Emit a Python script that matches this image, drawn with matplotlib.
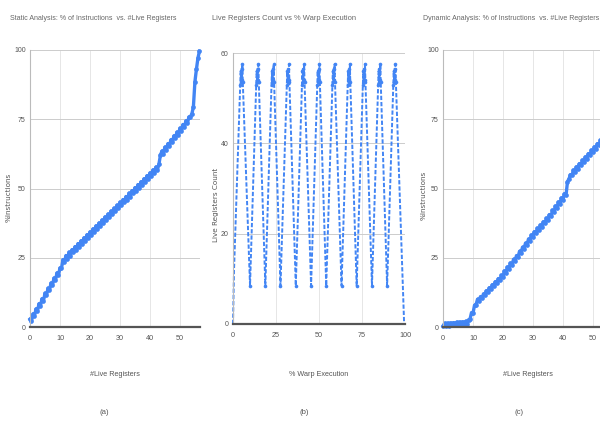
import matplotlib
matplotlib.use("Agg")
import matplotlib.pyplot as plt
from matplotlib import font_manager

names = {f.name for f in font_manager.fontManager.ttflist}
NARROW = ['Liberation Sans Narrow', 'Liberation Sans', 'DejaVu Sans']
NARROW = [n for n in NARROW if n in names] or ['DejaVu Sans']

# ---------------- data ----------------
# (a) Static analysis
static_x = [i * 0.5 for i in range(114)]
static_y = [2.8, 2.1, 4.7, 4.0, 6.5, 5.8, 8.4, 7.7, 10.2, 9.5,
            12.1, 11.4, 13.9, 13.2, 15.8, 15.1, 17.6, 16.9, 19.5, 18.8,
            21.3, 21.2, 24.3, 23.5, 25.8, 24.7, 26.9, 25.8, 27.9, 26.9,
            29.0, 27.9, 30.1, 29.0, 31.1, 30.1, 32.2, 31.1, 33.3, 32.2,
            34.3, 33.3, 35.4, 34.3, 36.5, 35.4, 37.5, 36.5, 38.6, 37.5,
            39.7, 38.6, 40.7, 39.6, 41.8, 40.7, 42.8, 41.8, 43.9, 42.8,
            45.0, 43.9, 46.0, 45.0, 47.1, 46.0, 48.2, 47.1, 49.2, 48.2,
            50.3, 49.2, 51.4, 50.3, 52.4, 51.4, 53.5, 52.4, 54.6, 53.5,
            55.6, 54.6, 56.7, 55.6, 57.7, 56.7, 58.8, 62.0, 63.5, 62.6,
            64.9, 63.9, 66.2, 65.3, 67.6, 66.7, 69.0, 68.1, 70.3, 69.4,
            71.7, 70.8, 73.1, 72.2, 74.4, 73.5, 75.8, 75.9, 77.0, 79.5,
            88.5, 93.0, 97.0, 99.5]

# (b) Live registers over warp execution
warp_x = [0.0, 0.6,
          4.2, 4.45, 4.7, 4.95, 5.2, 5.45, 5.7, 9.9,
          13.5, 13.75, 14.0, 14.25, 14.5, 14.75, 15.0, 18.8,
          22.4, 22.65, 22.9, 23.15, 23.4, 23.65, 23.9, 27.6,
          31.3, 31.55, 31.8, 32.05, 32.3, 32.55, 32.8, 36.5,
          40.1, 40.35, 40.6, 40.85, 41.1, 41.35, 41.6, 45.4,
          49.0, 49.25, 49.5, 49.75, 50.0, 50.25, 50.5, 54.2,
          57.8, 58.05, 58.3, 58.55, 58.8, 59.05, 59.3, 63.1,
          66.7, 66.95, 67.2, 67.45, 67.7, 67.95, 68.2, 71.9,
          75.5, 75.75, 76.0, 76.25, 76.5, 76.75, 77.0, 80.8,
          84.4, 84.65, 84.9, 85.15, 85.4, 85.65, 85.9, 89.6,
          93.2, 93.45, 93.7, 93.95, 94.2, 94.45, 94.7, 99.5]
warp_y = [0.0, 12.0,
          53.0, 56.0, 53.5, 56.5, 54.0, 57.5, 53.5, 8.5,
          53.0, 56.0, 53.5, 56.5, 54.0, 57.5, 53.5, 8.5,
          53.0, 56.0, 53.5, 56.5, 54.0, 57.5, 53.5, 8.5,
          53.0, 56.0, 53.5, 56.5, 54.0, 57.5, 53.5, 8.5,
          53.0, 56.0, 53.5, 56.5, 54.0, 57.5, 53.5, 8.5,
          53.0, 56.0, 53.5, 56.5, 54.0, 57.5, 53.5, 8.5,
          53.0, 56.0, 53.5, 56.5, 54.0, 57.5, 53.5, 8.5,
          53.0, 56.0, 53.5, 56.5, 54.0, 57.5, 53.5, 8.5,
          53.0, 56.0, 53.5, 56.5, 54.0, 57.5, 53.5, 8.5,
          53.0, 56.0, 53.5, 56.5, 54.0, 57.5, 53.5, 8.5,
          53.0, 56.0, 53.5, 56.5, 54.0, 57.5, 53.5, 0.0]

# (c) Dynamic analysis
dyn_x = [i * 0.5 for i in range(110)]
dyn_y = [0.3, 1.3, 0.4, 1.4, 0.5, 1.5, 0.6, 1.6, 0.7, 1.7,
         0.8, 1.8, 0.9, 1.9, 1.0, 2.0, 1.0, 2.6, 2.8, 5.2,
         5.0, 7.8, 8.0, 10.0, 9.4, 11.0, 10.4, 12.0, 11.5, 13.1,
         12.6, 14.2, 13.7, 15.3, 14.8, 16.4, 15.9, 17.5, 17.0, 18.6,
         18.2, 20.2, 19.6, 21.6, 21.0, 23.0, 22.4, 24.4, 23.8, 25.8,
         25.2, 27.3, 26.7, 28.8, 28.2, 30.3, 29.7, 31.8, 31.2, 33.2,
         32.6, 34.4, 33.8, 35.6, 35.0, 36.8, 36.2, 38.0, 37.4, 39.2,
         38.6, 40.6, 40.0, 42.1, 41.5, 43.6, 43.0, 45.1, 44.5, 46.6,
         46.0, 48.1, 47.5, 52.5, 53.5, 55.0, 54.8, 56.6, 56.0, 57.8,
         57.2, 59.0, 58.4, 60.2, 59.6, 61.4, 60.8, 62.6, 62.0, 63.8,
         63.2, 65.0, 64.4, 66.2, 65.6, 67.4, 66.8, 68.6, 68.0, 69.8]

pct_ticks = [0, 25, 50, 75, 100]
reg_ticks = [0, 10, 20, 30, 40, 50]
warp_xticks = [0, 25, 50, 75, 100]
warp_yticks = [0, 20, 40, 60]

titles = ["Static Analysis: % of Instructions  vs. #Live Registers",
          "Live Registers Count vs % Warp Execution",
          "Dynamic Analysis: % of Instructions  vs. #Live Registers"]
xlabels = ["#Live Registers", "% Warp Execution", "#Live Registers"]
ylabels = ["%Instructions", "Live Registers Count", "%Instructions"]
captions = ["(a)", "(b)", "(c)"]

# ---------------- drawing ----------------
BLUE = '#4285F4'
fig = plt.figure(figsize=(6, 4.24), dpi=100)
fig.patch.set_facecolor('white')

H = 424.0
def pos(l, r, t, b):
    return [l / 600, 1 - b / H, (r - l) / 600, (b - t) / H]

axA = fig.add_axes(pos(30, 200, 50, 327))
axB = fig.add_axes(pos(233, 405, 53, 324))
axC = fig.add_axes(pos(443, 614, 50, 327))

def style(ax, xticks, yticks, xlim, ylim):
    ax.set_xlim(*xlim)
    ax.set_ylim(*ylim)
    ax.set_xticks(xticks)
    ax.set_yticks(yticks)
    for s in ['top', 'right']:
        ax.spines[s].set_visible(False)
    ax.spines['left'].set_color('#bbbbbb')
    ax.spines['left'].set_linewidth(0.8)
    ax.spines['bottom'].set_color('#555555')
    ax.spines['bottom'].set_linewidth(1.6)
    ax.grid(True, axis='x', color='#e6e6e6', linewidth=0.7)
    ax.grid(True, axis='y', color='#cccccc', linewidth=0.7)
    ax.set_axisbelow(True)
    ax.tick_params(axis='x', length=0, pad=6, labelsize=5.2, labelcolor='#555555')
    ax.tick_params(axis='y', length=0, pad=3, labelsize=5.0, labelcolor='#555555')
    for lab in ax.get_xticklabels() + ax.get_yticklabels():
        lab.set_family(NARROW)

style(axA, reg_ticks, pct_ticks, (0, 56.7), (0, 100))
style(axB, warp_xticks, warp_yticks, (0, 100), (0, 60))
style(axC, reg_ticks, pct_ticks, (0, 57), (0, 100))

axA.plot(static_x, static_y, color=BLUE, lw=2.4, marker='o', ms=3.4,
         mew=0, clip_on=False)
axC.plot(dyn_x, dyn_y, color=BLUE, lw=2.4, marker='o', ms=3.4,
         mew=0, clip_on=False)
axB.plot(warp_x, warp_y, color=BLUE, lw=1.4, ls=(0, (2.2, 1.0)),
         clip_on=False)
axB.plot(warp_x[2:-1], warp_y[2:-1], color=BLUE, lw=0, marker='o',
         ms=2.6, mew=0)

# titles
fig.text(10 / 600, 1 - 18 / H, titles[0], fontsize=5.0, color='#666666',
         family=NARROW, va='center', ha='left')
fig.text(212 / 600, 1 - 18 / H, titles[1], fontsize=5.4, color='#666666',
         family=NARROW, va='center', ha='left')
fig.text(423 / 600, 1 - 18 / H, titles[2], fontsize=5.0, color='#666666',
         family=NARROW, va='center', ha='left')

# y labels
for x, y, t in [(9, 197, ylabels[0]), (216, 205, ylabels[1]), (424, 195, ylabels[2])]:
    fig.text(x / 600, 1 - y / H, t, rotation=90, fontsize=5.2, color='#555555',
             va='center', ha='center', family=['DejaVu Sans'])

# x labels
for x, t in [(115, xlabels[0]), (319, xlabels[1]), (528, xlabels[2])]:
    fig.text(x / 600, 1 - 375 / H, t, fontsize=5.2, color='#555555',
             va='center', ha='center', family=NARROW)

# captions
for x, t in [(104, captions[0]), (304, captions[1]), (519, captions[2])]:
    fig.text(x / 600, 1 - 413 / H, t, fontsize=5.6, color='#555555',
             va='center', ha='center', family=NARROW)

fig.savefig('out.png', dpi=100, facecolor='white')
